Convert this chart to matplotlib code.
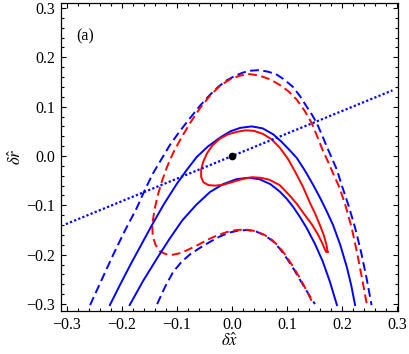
import matplotlib
matplotlib.use("Agg")
import matplotlib.pyplot as plt
from matplotlib.ticker import MultipleLocator

plt.rcParams['font.family'] = ['Liberation Serif', 'DejaVu Serif']
plt.rcParams['mathtext.fontset'] = 'stix'

# outer blue dashed curve
b_out_x = [-0.258, -0.237, -0.216, -0.195, -0.173, -0.158, -0.144, -0.128, -0.113, -0.095,
           -0.076, -0.058, -0.040, -0.025, -0.010, 0.005, 0.020, 0.035, 0.050, 0.065,
           0.080, 0.095, 0.111, 0.124, 0.136, 0.146, 0.155, 0.164, 0.173, 0.182,
           0.191, 0.200, 0.212, 0.224, 0.235, 0.245, 0.254]
b_out_y = [-0.302, -0.251, -0.200, -0.152, -0.105, -0.068, -0.036, -0.006, 0.022, 0.050,
           0.077, 0.102, 0.124, 0.140, 0.153, 0.162, 0.169, 0.173, 0.174, 0.171,
           0.166, 0.155, 0.140, 0.121, 0.100, 0.083, 0.065, 0.042, 0.018, -0.005,
           -0.028, -0.060, -0.100, -0.145, -0.195, -0.248, -0.302]

# inner blue dashed curve
b_in_x = [-0.136, -0.122, -0.107, -0.092, -0.076, -0.058, -0.040, -0.022, -0.004, 0.012,
          0.028, 0.044, 0.060, 0.075, 0.088, 0.102, 0.114, 0.126, 0.139, 0.151]
b_in_y = [-0.300, -0.266, -0.235, -0.215, -0.199, -0.186, -0.174, -0.163, -0.155, -0.151,
          -0.150, -0.153, -0.161, -0.173, -0.189, -0.211, -0.232, -0.255, -0.279, -0.300]

# blue solid curves
b_up_x = [-0.222, -0.204, -0.185, -0.166, -0.147, -0.124, -0.100, -0.082, -0.064, -0.044,
          -0.022, -0.003, 0.015, 0.036, 0.056, 0.075, 0.090, 0.104, 0.118, 0.133,
          0.147, 0.160, 0.172, 0.184, 0.197, 0.209, 0.217, 0.224]
b_up_y = [-0.302, -0.262, -0.221, -0.182, -0.143, -0.098, -0.056, -0.028, -0.002, 0.019,
          0.037, 0.050, 0.057, 0.060, 0.056, 0.044, 0.029, 0.013, -0.004, -0.030,
          -0.057, -0.084, -0.111, -0.140, -0.180, -0.225, -0.262, -0.302]
b_lo_x = [-0.186, -0.161, -0.136, -0.113, -0.090, -0.065, -0.040, -0.016, 0.008, 0.030,
          0.050, 0.070, 0.087, 0.100, 0.112, 0.124, 0.136, 0.151, 0.165, 0.178, 0.191]
b_lo_y = [-0.302, -0.252, -0.207, -0.167, -0.130, -0.099, -0.073, -0.057, -0.047, -0.044,
          -0.047, -0.057, -0.072, -0.087, -0.104, -0.124, -0.146, -0.178, -0.213, -0.254, -0.302]

# red dashed curve
r_dash_x = [0.245, 0.237, 0.228, 0.218, 0.207, 0.196, 0.184, 0.175, 0.165, 0.155,
            0.145, 0.132, 0.118, 0.103, 0.087, 0.070, 0.050, 0.032, 0.015, -0.004,
            -0.022, -0.040, -0.058, -0.076, -0.092, -0.107, -0.118, -0.127, -0.135, -0.141,
            -0.145, -0.144, -0.139, -0.131, -0.120, -0.107, -0.095, -0.082, -0.063, -0.045,
            -0.027, -0.009, 0.008, 0.025, 0.042, 0.058, 0.073, 0.085, 0.097, 0.110,
            0.124, 0.136, 0.147]
r_dash_y = [-0.298, -0.250, -0.198, -0.146, -0.102, -0.065, -0.035, -0.012, 0.012, 0.040,
            0.067, 0.092, 0.114, 0.131, 0.144, 0.155, 0.163, 0.166, 0.163, 0.155,
            0.142, 0.122, 0.097, 0.067, 0.037, 0.006, -0.022, -0.050, -0.080, -0.110,
            -0.140, -0.162, -0.180, -0.193, -0.199, -0.200, -0.197, -0.191, -0.181, -0.170,
            -0.161, -0.154, -0.150, -0.149, -0.152, -0.159, -0.170, -0.183, -0.200, -0.222,
            -0.248, -0.273, -0.298]

# red solid loop
r_loop_x = [0.174, 0.172, 0.167, 0.160, 0.151, 0.142, 0.129, 0.116, 0.102, 0.087,
            0.072, 0.056, 0.040, 0.025, 0.009, -0.007, -0.022, -0.035, -0.045, -0.052,
            -0.056, -0.056, -0.052, -0.043, -0.030, -0.015, 0.000, 0.018, 0.036, 0.052,
            0.068, 0.087, 0.105, 0.118, 0.131, 0.145, 0.156, 0.164, 0.169, 0.172, 0.174]
r_loop_y = [-0.194, -0.180, -0.160, -0.140, -0.116, -0.095, -0.062, -0.034, -0.006, 0.017,
            0.034, 0.045, 0.051, 0.052, 0.049, 0.044, 0.035, 0.022, 0.006, -0.011,
            -0.028, -0.042, -0.053, -0.059, -0.060, -0.058, -0.053, -0.047, -0.043, -0.044,
            -0.048, -0.059, -0.080, -0.097, -0.117, -0.138, -0.158, -0.176, -0.189, -0.195, -0.194]

# dotted line and fixed point
dot_x = [-0.302, 0.292]
dot_y = [-0.138, 0.133]
pt_x = [0.0]
pt_y = [0.0]

fig = plt.figure(figsize=(4.09, 3.54), dpi=100)
ax = fig.add_axes([0.149, 0.1215, 0.824, 0.870])

lw = 1.4
ax.plot(b_out_x, b_out_y, color='blue', lw=lw, dashes=(4.5, 2.3))
ax.plot(b_in_x, b_in_y, color='blue', lw=lw, dashes=(4.5, 2.3))
ax.plot(r_dash_x, r_dash_y, color='red', lw=lw, dashes=(4.5, 2.3))
ax.plot(b_up_x, b_up_y, color='blue', lw=lw)
ax.plot(b_lo_x, b_lo_y, color='blue', lw=lw)
ax.plot(r_loop_x, r_loop_y, color='red', lw=lw)
ax.plot(dot_x, dot_y, color='blue', lw=1.6, dashes=(1.0, 1.0))
ax.plot(pt_x, pt_y, 'o', color='black', ms=4.5)

ax.set_xlim(-0.311, 0.302)
ax.set_ylim(-0.314, 0.310)
ax.xaxis.set_major_locator(MultipleLocator(0.1))
ax.xaxis.set_minor_locator(MultipleLocator(0.02))
ax.yaxis.set_major_locator(MultipleLocator(0.1))
ax.yaxis.set_minor_locator(MultipleLocator(0.02))
ax.xaxis.set_major_formatter(lambda v, p: f"{v:.1f}".replace('-', '\u2212'))
ax.yaxis.set_major_formatter(lambda v, p: f"{v:.1f}".replace('-', '\u2212'))
ax.tick_params(which='both', direction='in', top=True, right=True, width=0.8, labelsize=11.5)
ax.tick_params(which='major', length=3.5, pad=4)
ax.tick_params(which='minor', length=2)
for s in ax.spines.values():
    s.set_linewidth(0.9)

ax.set_xlabel(r'$\delta\hat{x}$', fontsize=12, labelpad=0)
ax.set_ylabel(r'$\delta\hat{r}$', fontsize=12, labelpad=1)
ax.text(0.045, 0.89, '(a)', transform=ax.transAxes, fontsize=11.5, va='center')

fig.savefig('out.png', dpi=100)
